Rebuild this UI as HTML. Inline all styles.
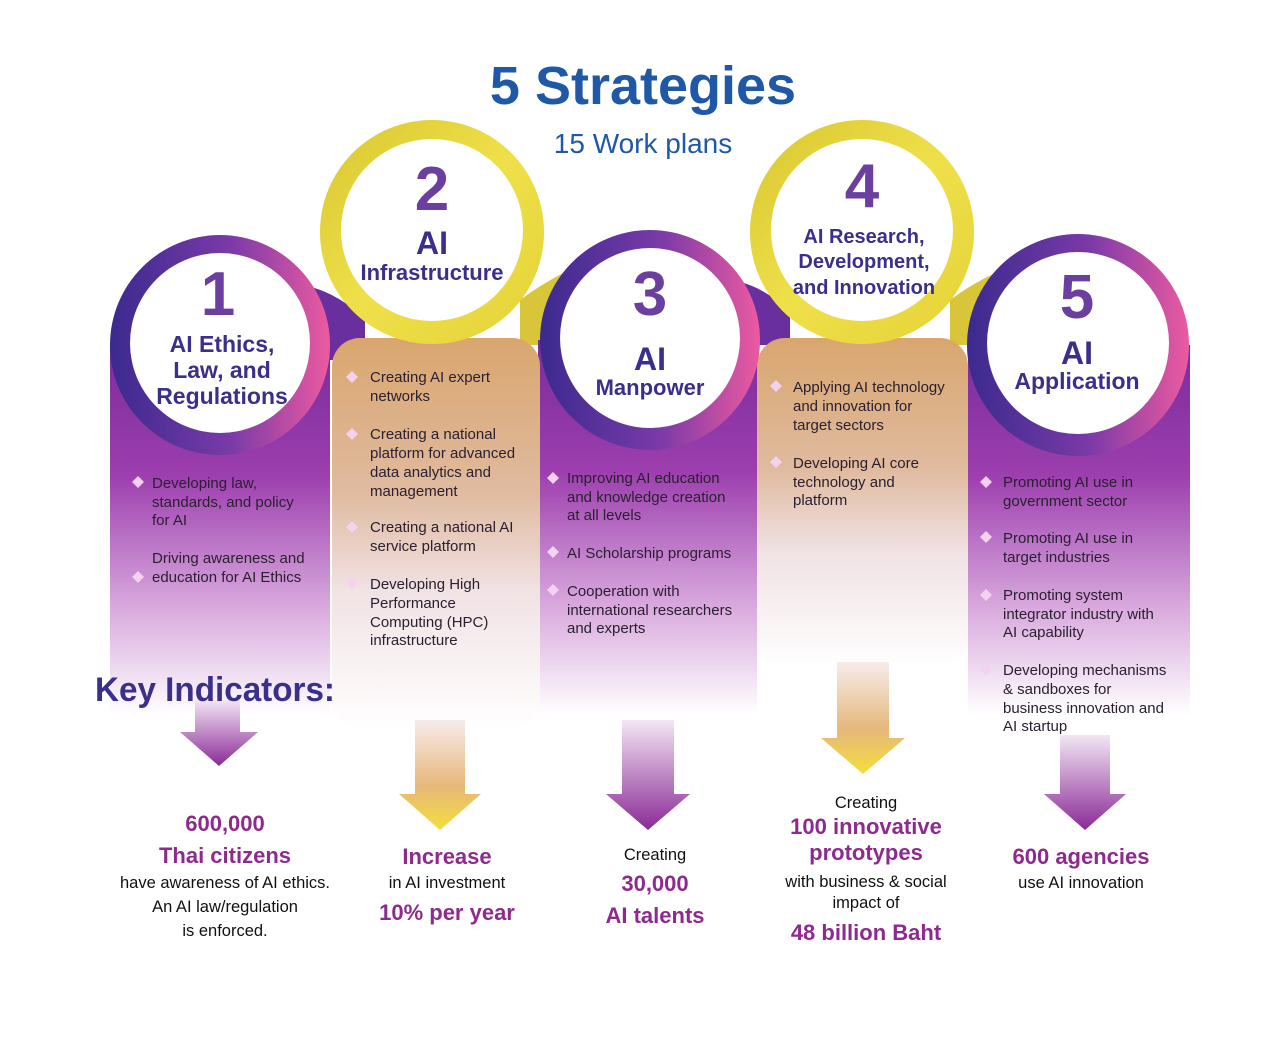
<!DOCTYPE html>
<html><head><meta charset="utf-8"><style>
html,body{margin:0;padding:0;background:#fff}
svg{display:block}
text{font-family:"Liberation Sans",sans-serif}
.t{font-size:15px;fill:#2a2030}
.h{font-weight:bold;fill:#3a2f8a;text-anchor:middle}
.p{font-weight:bold;fill:#8e2a8e;text-anchor:middle;font-size:22px}
.k{fill:#111;text-anchor:middle;font-size:16.5px}
</style></head><body>
<svg width="1280" height="1048" viewBox="0 0 1280 1048">
<defs>
<linearGradient id="ring" x1="0" y1="0" x2="1" y2="0"><stop offset="0" stop-color="#3b2a8e"/><stop offset="0.55" stop-color="#7a3aa8"/><stop offset="1" stop-color="#ec5aa0"/></linearGradient>
<linearGradient id="yring" x1="0" y1="0" x2="1" y2="1"><stop offset="0" stop-color="#d8c630"/><stop offset="0.5" stop-color="#efe04a"/><stop offset="1" stop-color="#e4d236"/></linearGradient>
<linearGradient id="pb" x1="0" y1="0" x2="0" y2="1"><stop offset="0" stop-color="#7a2c9c"/><stop offset="0.35" stop-color="#9c3eae"/><stop offset="0.7" stop-color="#d7a6dc"/><stop offset="1" stop-color="#ffffff"/></linearGradient>
<linearGradient id="yb" x1="0" y1="0" x2="0" y2="1"><stop offset="0" stop-color="#d9a66e"/><stop offset="0.4" stop-color="#e0bba0"/><stop offset="0.65" stop-color="#f1e2e4"/><stop offset="1" stop-color="#ffffff"/></linearGradient>
<linearGradient id="pa" x1="0" y1="0" x2="0" y2="1"><stop offset="0" stop-color="#f3e6f4"/><stop offset="1" stop-color="#8a2a96"/></linearGradient>
<linearGradient id="ya" x1="0" y1="0" x2="0" y2="1"><stop offset="0" stop-color="#f7ecec"/><stop offset="0.6" stop-color="#e6b87a"/><stop offset="1" stop-color="#f5dd3c"/></linearGradient>
</defs>
<text x="643" y="104" text-anchor="middle" font-size="54" font-weight="bold" fill="#1f58a6">5 Strategies</text>
<text x="643" y="153" text-anchor="middle" font-size="28" fill="#1f58a6">15 Work plans</text>

<!-- connectors -->
<path d="M300 360L300 285Q330 288 365 318L365 360Z" fill="#6a2f9e"/>
<path d="M520 345L520 300Q540 285 565 272L565 345Z" fill="#d9c53a"/>
<path d="M740 345L740 282Q765 288 790 312L790 345Z" fill="#6a2f9e"/>
<path d="M950 345L950 300Q970 285 995 273L995 345Z" fill="#d9c53a"/>
<!-- bands -->
<rect x="110" y="345" width="220" height="370" fill="url(#pb)"/>
<rect x="538" y="340" width="219" height="375" fill="url(#pb)"/>
<rect x="968" y="345" width="222" height="370" fill="url(#pb)"/>
<rect x="332" y="338" width="208" height="390" rx="28" fill="url(#yb)"/>
<rect x="757" y="338" width="211" height="330" rx="28" fill="url(#yb)"/>

<!-- circles -->
<circle cx="220" cy="345" r="110" fill="url(#ring)"/><circle cx="220" cy="343" r="90" fill="#fff"/>
<circle cx="650" cy="340" r="110" fill="url(#ring)"/><circle cx="650" cy="338" r="90" fill="#fff"/>
<circle cx="1078" cy="345" r="111" fill="url(#ring)"/><circle cx="1078" cy="343" r="91" fill="#fff"/>
<circle cx="432" cy="232" r="112" fill="url(#yring)"/><circle cx="432" cy="230" r="91" fill="#fff"/>
<circle cx="862" cy="232" r="112" fill="url(#yring)"/><circle cx="862" cy="230" r="91" fill="#fff"/>

<g font-weight="bold" fill="#6a3fa0" text-anchor="middle" font-size="62">
<text x="218" y="315">1</text><text x="432" y="210">2</text><text x="650" y="315">3</text><text x="862" y="207">4</text><text x="1077" y="318">5</text></g>
<text class="h" font-size="23" x="222" y="352">AI Ethics,</text>
<text class="h" font-size="23" x="222" y="378">Law, and</text>
<text class="h" font-size="23" x="222" y="404">Regulations</text>
<text class="h" font-size="32" x="432" y="254">AI</text>
<text class="h" font-size="22" x="432" y="280">Infrastructure</text>
<text class="h" font-size="32" x="650" y="370">AI</text>
<text class="h" font-size="22" x="650" y="395">Manpower</text>
<text class="h" font-size="20" x="864" y="243">AI Research,</text>
<text class="h" font-size="20" x="864" y="268">Development,</text>
<text class="h" font-size="20" x="864" y="294">and Innovation</text>
<text class="h" font-size="32" x="1077" y="364">AI</text>
<text class="h" font-size="23" x="1077" y="389">Application</text>

<g fill="#f2d2ee">
<path d="M138 476l6 6-6 6-6-6z"/><path d="M138 571l6 6-6 6-6-6z"/>
<path d="M352 371l6 6-6 6-6-6z"/><path d="M352 428l6 6-6 6-6-6z"/><path d="M352 521l6 6-6 6-6-6z"/><path d="M352 577l6 6-6 6-6-6z"/>
<path d="M553 472l6 6-6 6-6-6z"/><path d="M553 546l6 6-6 6-6-6z"/><path d="M553 584l6 6-6 6-6-6z"/>
<path d="M776 380l6 6-6 6-6-6z"/><path d="M776 456l6 6-6 6-6-6z"/>
<path d="M986 476l6 6-6 6-6-6z"/><path d="M986 531l6 6-6 6-6-6z"/><path d="M986 589l6 6-6 6-6-6z"/><path d="M986 664l6 6-6 6-6-6z"/>
</g>
<g class="t">
<text x="152" y="488">Developing law,</text><text x="152" y="507">standards, and policy</text><text x="152" y="525">for AI</text>
<text x="152" y="563">Driving awareness and</text><text x="152" y="582">education for AI Ethics</text>
<text x="370" y="382">Creating AI expert</text><text x="370" y="401">networks</text>
<text x="370" y="439">Creating a national</text><text x="370" y="458">platform for advanced</text><text x="370" y="477">data analytics and</text><text x="370" y="496">management</text>
<text x="370" y="532">Creating a national AI</text><text x="370" y="551">service platform</text>
<text x="370" y="589">Developing High</text><text x="370" y="608">Performance</text><text x="370" y="627">Computing (HPC)</text><text x="370" y="645">infrastructure</text>
<text x="567" y="483">Improving AI education</text><text x="567" y="502">and knowledge creation</text><text x="567" y="520">at all levels</text>
<text x="567" y="558">AI Scholarship programs</text>
<text x="567" y="596">Cooperation with</text><text x="567" y="615">international researchers</text><text x="567" y="633">and experts</text>
<text x="793" y="392">Applying AI technology</text><text x="793" y="411">and innovation for</text><text x="793" y="430">target sectors</text>
<text x="793" y="468">Developing AI core</text><text x="793" y="487">technology and</text><text x="793" y="505">platform</text>
<text x="1003" y="487">Promoting AI use in</text><text x="1003" y="506">government sector</text>
<text x="1003" y="543">Promoting AI use in</text><text x="1003" y="562">target industries</text>
<text x="1003" y="600">Promoting system</text><text x="1003" y="619">integrator industry with</text><text x="1003" y="637">AI capability</text>
<text x="1003" y="675">Developing mechanisms</text><text x="1003" y="694">&amp; sandboxes for</text><text x="1003" y="713">business innovation and</text><text x="1003" y="731">AI startup</text>
</g>

<!-- arrows -->
<path d="M195 700h45v32h18l-39 34-39-34h15z" fill="url(#pa)"/>
<path d="M415 720h50v74h16l-41 36-41-36h16z" fill="url(#ya)"/>
<path d="M622 720h52v74h16l-42 36-42-36h16z" fill="url(#pa)"/>
<path d="M837 662h52v76h16l-42 36-42-36h16z" fill="url(#ya)"/>
<path d="M1060 735h50v59h16l-41 36-41-36h16z" fill="url(#pa)"/>

<text x="95" y="701" font-size="34" font-weight="bold" fill="#3a2f8a" textLength="240" lengthAdjust="spacingAndGlyphs">Key Indicators:</text>

<text class="p" x="225" y="831">600,000</text>
<text class="p" x="225" y="863">Thai citizens</text>
<text class="k" x="225" y="888">have awareness of AI ethics.</text>
<text class="k" x="225" y="912">An AI law/regulation</text>
<text class="k" x="225" y="936">is enforced.</text>
<text class="p" x="447" y="864">Increase</text>
<text class="k" x="447" y="888">in AI investment</text>
<text class="p" x="447" y="920">10% per year</text>
<text class="k" x="655" y="860">Creating</text>
<text class="p" x="655" y="891">30,000</text>
<text class="p" x="655" y="923">AI talents</text>
<text class="k" x="866" y="808">Creating</text>
<text class="p" x="866" y="834">100 innovative</text>
<text class="p" x="866" y="860">prototypes</text>
<text class="k" x="866" y="887">with business &amp; social</text>
<text class="k" x="866" y="908">impact of</text>
<text class="p" x="866" y="940">48 billion Baht</text>
<text class="p" x="1081" y="864">600 agencies</text>
<text class="k" x="1081" y="888">use AI innovation</text>
</svg>
</body></html>
